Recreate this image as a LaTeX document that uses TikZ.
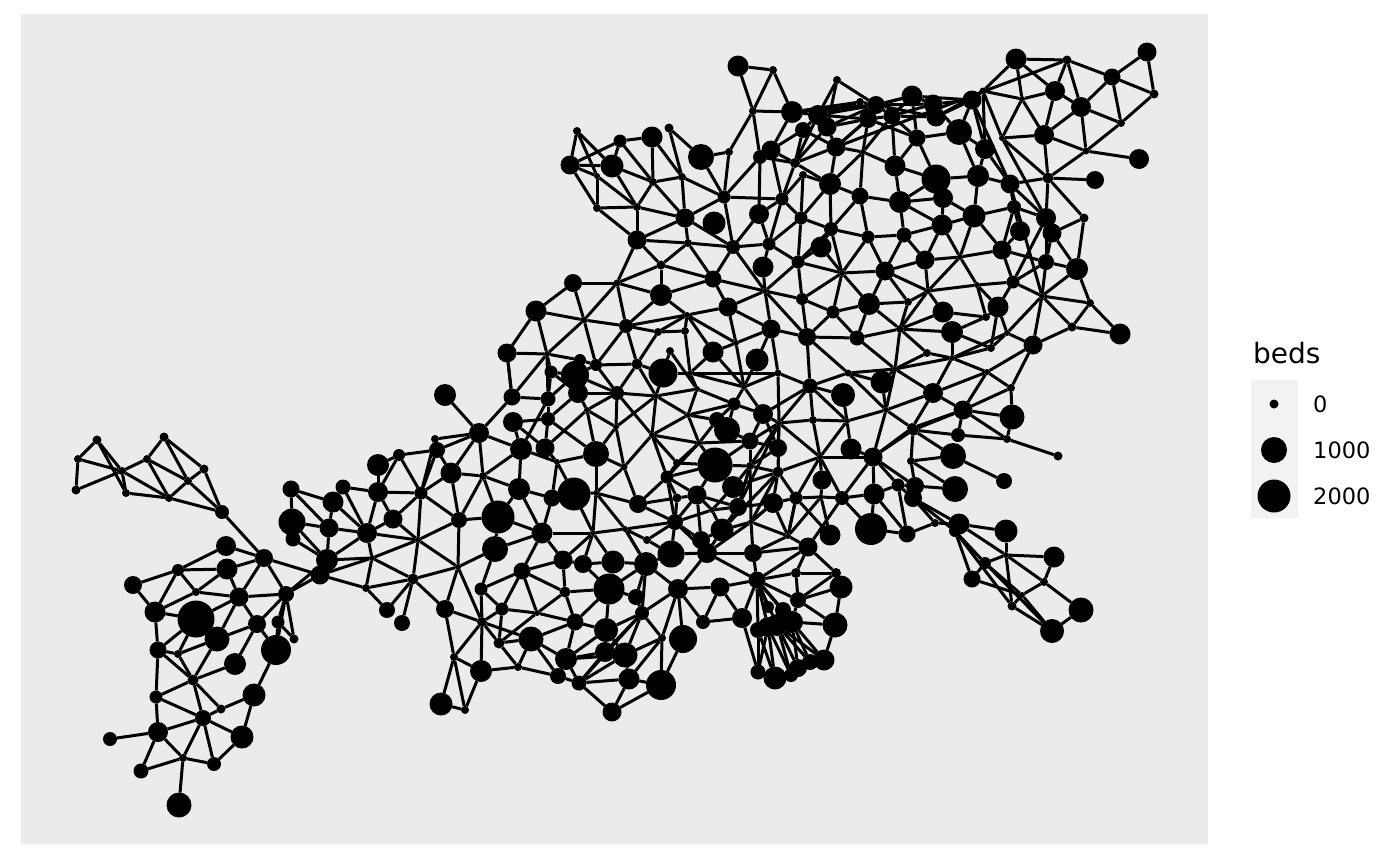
\documentclass[tikz,border=0pt]{standalone}
\usepackage{fontspec}
\setmainfont{DejaVu Sans}
\definecolor{panelgrey}{HTML}{EBEBEB}
\definecolor{keygrey}{HTML}{F2F2F2}
\tikzset{
  hub/.style={circle,fill=black,draw=none,inner sep=0pt,outer sep=0pt,minimum size=#1*2pt},
  link/.style={black,line width=3pt},
}
\begin{document}
\begin{tikzpicture}[x=1pt,y=-1pt]
\useasboundingbox (0,0) rectangle (1400,865);
\fill[panelgrey] (21,14) rectangle (1208,844);
\fill[keygrey] (1251,380) rectangle (1298,518);
% hospitals
\foreach \n/\x/\y/\r in {
a1/97/440/4.5,a2/78/459/4,a3/76/490/4.5,a4/122/471/4,a5/126/493/4,a6/147/459/4,a7/164/437/4.5,a8/204/469/4.5,a9/188/481/4,a10/169/498/4,a11/222/512/7,
b1/264/558/9,b2/226/546/10,b3/227/569/10.5,b4/178/570/6,b5/133/585/9,b6/155/612/10.5,b7/196/619/18.5,b8/196/592/4,b9/239/597/9.5,b10/286/594/8,b11/257/624/9,b12/217/639/12.5,b13/158/650/8.5,b14/178/654/4,b15/235/664/11,b16/276/650/15,b17/278/622/6.5,b18/294/639/4.5,b19/193/680/5.5,b20/156/697/6.5,b21/221/709/4.5,b22/254/695/11.5,b23/203/718/8,b24/242/737/11.5,b25/158/732/10,b26/110/739/7,b27/141/771/7.5,b28/183/758/4,b29/214/764/7,b30/179/805/12.5,
c1/320/575/9.5,c2/327/560/11,c3/329/528/9.5,c4/292/522/13.5,c5/291/489/8.5,c6/293/539/7.5,c7/333/502/10.5,c8/343/487/7.5,c9/378/492/10,c10/378/465/11,c11/399/455/6,c12/367/533/10,c13/393/519/9.5,c14/372/558/3,c15/366/588/4,c16/387/610/8,c17/402/623/8,
d1/445/395/11,d2/479/433/10,d3/435/439/4,d4/437/450/8,d7/451/473/10.5,d9/421/493/6.5,d12/459/520/8,d13/483/476/4,d14/498/517/16.5,d15/519/489/11,d16/521/449/11,d17/513/422/10,d18/512/397/8.5,d19/548/399/7.5,d20/548/419/7,d21/545/448/9.5,d22/552/498/8.5,d23/574/494/16.5,d24/542/533/10.5,d25/495/549/13,d26/418/540/3,d27/458/567/3,d30/413/579/5.5,d31/445/609/9,d34/522/571/8.5,d35/481/589/6.5,d36/502/609/6.5,d37/563/560/9.5,d38/583/564/9,d39/613/562/11.5,d40/646/564/12,d41/671/554/13.5,d42/565/592/5.5,d43/609/589/15.5,d44/636/597/8,d45/678/589/10,d46/482/622/5,d47/537/613/3,d48/575/622/8.5,d49/606/630/12,d50/642/613/7,d51/703/622/7,d52/499/643/5.5,d53/531/639/12.5,d54/662/638/4,d55/683/639/14,d56/454/657/4,d57/481/671/11,d58/518/667/4,d59/566/659/11,d60/605/652/10,d61/625/655/12.5,d62/558/676/8,d63/579/683/7.5,d64/629/679/10.5,d65/661/685/15,d66/612/712/9.5,d67/441/704/11.5,d68/465/710/4,
d76/616/427/3,d77/652/435/3,d78/596/454/13,d79/624/467/3.5,d80/667/477/6.5,d81/677/463/4,d82/715/465/17.5,d83/697/495/9.5,d84/677/498/4.5,d85/638/504/9,d86/675/522/8,d87/596/493/3,d88/593/533/3,d89/625/529/3,d90/647/540/4,d91/701/540/9,d92/707/553/10,
f1/577/131/4,f2/570/165/9.5,f3/612/166/11.5,f4/620/141/6.5,f5/652/137/10.5,f6/669/128/4.5,f7/701/157/13,f8/729/152/4,f9/753/111/4,f10/792/112/11,f11/760/157/7,f12/771/150/9.5,f14/818/115/10,f15/803/130/8,f16/827/127/9.5,f20/782/199/6.5,f21/724/197/6.5,f22/682/177/4,f23/653/182/4,f24/597/176/3,f25/597/208/4,f26/637/207/4,f27/685/218/9.5,f28/714/223/11.5,f29/759/214/10,f32/637/240/9.5,f33/688/243/4,f34/733/247/7,f35/769/244/6.5,f38/763/267/10.5,f39/661/265/4.5,f40/713/279/8.5,f41/765/291/3,f42/573/283/9,f43/617/283/3.5,f44/661/295/11,f45/728/307/9.5,f48/536/311/10.5,f49/584/320/3.5,f50/626/326/7,f51/687/315/3,f52/658/332/4,f53/685/331/4,f54/771/329/9.5,f56/736/343/3,f57/713/352/10.5,f58/670/351/4,f59/757/360/11.5,f60/507/353/9.5,f61/547/354/3,f62/580/360/6,f63/596/365/6,f64/637/364/5.5,f65/663/373/14.5,f66/551/372/6.5,f67/575/375/14,f68/690/373/3,f69/778/373/3.5,f74/578/393/10,f75/617/393/7,f76/656/396/3,f77/697/389/3,f78/744/387/3,f79/734/404/6.5,f80/763/414/10,f81/688/415/3,
g1/837/80/4,g6/860/102/4,g7/876/105/9,g8/868/119/9,g9/892/116/8.5,g10/912/96/10.5,g11/933/104/9.5,g12/936/117/9.5,g13/972/100/9.5,g14/983/91/3.5,g15/1016/59/10.5,g16/1067/60/4.5,g17/1147/52/9.5,g18/1154/94/4.5,g19/1112/77/8.5,g20/1055/91/10,g21/1081/107/10,g22/1022/99/3,g23/1121/123/4,g24/1002/138/3,g25/1044/135/10,g26/1086/151/3.5,g27/1139/159/10,g28/1095/180/9,g29/1048/178/5.5,g30/959/132/13,g31/917/138/8.5,g32/985/149/10,g33/836/147/9.5,g34/863/152/3,g35/795/163/5,g36/895/166/10.5,g37/936/179/14.5,g38/978/176/11,g39/1010/184/9.5,g40/830/184/11,g41/860/196/8.5,g42/900/202/11,g43/943/198/10,g44/803/175/4,g45/974/216/11.5,g46/1014/207/7,g47/1046/218/10,g48/1052/233/9.5,g49/1020/231/10,g50/1084/218/4.5,g51/942/225/10.5,g52/904/235/7.5,g53/868/237/6.5,g54/831/229/7,g55/801/218/6.5,g56/821/247/10.5,g57/798/262/6.5,g58/842/273/3,g59/885/271/9.5,g60/925/260/9.5,g61/960/257/3,g62/1002/250/9.5,g63/1046/262/8,g64/1077/269/11,g65/1013/282/6.5,g66/977/285/3,g67/928/291/3,g68/908/302/4,g69/869/304/11,g70/802/299/6,g71/833/312/6.5,g72/1042/296/3,g73/1090/303/4,g74/1072/327/4.5,g75/1120/334/10.5,g76/998/307/10.5,g77/943/312/10.5,g78/986/317/4,g79/952/332/11,g80/900/329/4,g81/857/338/7.5,g82/807/337/9,g83/927/353/4,g84/991/348/4,g85/1033/345/9.5,g86/1007/333/3,g87/952/358/3,g88/987/372/3,g89/895/369/3,g90/848/373/3.5,g91/882/382/11.5,g92/810/386/7.5,g93/843/395/12,g94/1011/388/4,g95/933/393/10,g96/963/410/9.5,g97/1012/417/12.5,g98/886/410/3,g99/813/420/4,g100/847/421/3,g101/912/428/5,
h1/717/420/8,h2/727/430/13,h4/779/423/3,h8/750/441/8.5,h9/778/448/9,h10/851/449/10.5,h11/873/457/9.5,h12/820/457/3,h13/750/466/4,h14/778/472/5.5,h15/733/487/11,h16/822/480/9.5,h17/796/498/6.5,h18/821/497/3,h19/842/498/7,h20/874/494/10.5,h21/898/485/6.5,h22/915/486/9,h23/913/498/9,h24/955/489/13,h25/1004/481/8,h26/953/456/13,h27/911/461/4,h28/913/430/5.5,h30/958/435/7,h32/1007/439/4,h33/1058/456/4.5,h35/830/535/10.5,h36/871/529/16,h37/907/534/8.5,h38/935/523/4,h39/959/524/10.5,h40/955/531/6,h41/1006/531/11.5,h42/1054/557/10.5,h43/1006/555/3,h44/985/563/6,h45/972/579/8.5,h46/1044/582/4,h47/1022/595/3,h48/1012/606/4.5,h49/1081/610/12.5,h50/1052/631/12,h51/773/503/10,h52/738/507/9,h53/722/530/11.5,h56/753/553/9,h57/808/547/9.5,h58/788/536/3,h59/751/522/3,h60/757/580/8.5,h61/796/573/5,h62/798/600/8,h63/836/573/5,h64/841/587/11.5,h65/835/625/12.5,h66/824/660/10.5,h67/810/662/8,h68/798/668/9,h69/791/675/7,h70/775/678/11.5,h71/758/672/7.5,h72/758/630/8,h73/768/627/10,h74/777/625/11,h75/792/622/11,h76/783/610/8,h77/768/607/6,h78/742/618/10,h79/720/587/9.5,j1/699/443/3,j2/557/462/3,j3/587/410/3,j4/712/510/3,k1/738/66/10.5,k2/773/70/4}
  \node[hub=\r] (\n) at (\x,\y) {};
% neighbours
\foreach \p/\qs in {
a1/{a2,a4,a5},a2/{a3,a4},a3/{a4},a4/{a5,a6,a10},a5/{a10},a6/{a7,a9,a10},a7/{a8,a9},a8/{a9,a11},a9/{a10,a11},a10/{a11},a11/{b1},
b1/{b2,b3,b9,b10,c1},b2/{b4},b3/{b4,b8,b9},b4/{b5,b6,b8},b5/{b6},b6/{b7,b8,b13},b7/{b9,b13,b14},b8/{b9},b9/{b10,b11,b12},b10/{b11,b16,b17,b18,c1,c2},b11/{b12,b15,b16},b12/{b14,b19},b13/{b14,b19,b20},b14/{b19},b15/{b19},b16/{b17,b22},b17/{b18},b19/{b20,b21,b23},b20/{b23,b25},b21/{b22,b23},b22/{b24},b23/{b24,b25,b28,b29},b24/{b29},b25/{b26,b27,b28},b27/{b28},b28/{b29,b30},
c5/{c3,c4,c7},c4/{c3,c2,c6},c6/{c2},c7/{c3,c8,c12},c3/{c2,c12},c2/{c1,c12,c14},c1/{c14,c15},c8/{c9,c12},c9/{c10,c11,c12,c13,d9},c10/{c11},c11/{d4,d9},c12/{c13,c14,d26},c13/{d9,d26},c14/{c15,d26,d30},c15/{c16,d30},
d1/{d2},d2/{d3,d4,d7,d13,d16,d18},d3/{d4,d9},d4/{d7,d9},d7/{d9,d12,d13},d9/{d12,d26},d12/{d13,d14,d26,d27},d13/{d14,d15,d16},d14/{d15,d24,d25},d15/{d16,d22,d24},d16/{d17,d19,j2},d17/{d20,d21},d18/{d19,f60,f61},d19/{d20,f61,f66,f67},d20/{d21,d78,f74},d21/{j2,j3},j2/{d78,d23,d22},j3/{f74,f75,d76,d78},d22/{d24},d24/{d25,d34,d37,d88},d25/{d27,d35},d26/{d27,d30},d27/{d30,d31,d46},d30/{c16,c17,d31},d31/{d46,d56},d34/{d35,d36,d37,d42,d47},d35/{d36,d46},d36/{d46,d47,d52},d37/{d38,d42,d88},d38/{d39,d43,d88},d39/{d40,d88},d40/{d41,d43,d44,d50,d89,d45},d41/{d86,d90,d92},d42/{d43,d47,d48},d43/{d44,d48,d49},d44/{d50},d45/{d50,d51,d54,d55,d92,h79},d46/{d52,d53,d56,d57},d47/{d48,d52},d48/{d49,d53,d59},d49/{d50,d59,d60,d61},d50/{d54,d60,d61,d63},d52/{d53,d58},d53/{d58,d59,d62},d54/{d61,d64,d65},d55/{d65},d56/{d57,d67,d68},d57/{d58,d68},d58/{d62},d59/{d60,d61,d62,d63},d60/{d63},d61/{d63,d64},d62/{d63},d63/{d64,d66},d64/{d65,d66},d65/{d66},d67/{d68},
d23/{d87,d88},d76/{f75,d78,d79,f76},d77/{f76,f75,d79,d80,f81,j1,d81},d78/{d79,d87},d79/{d85,d87},d80/{d81,d84,d85,d86,j1,d82,d83},d81/{d82,j1},d82/{d83,j1,h15,h8,h13},d83/{d84,h52,d91,d86,j4},d84/{d86,d85},d85/{d86,d87},d86/{d89,d90,d91,d92,j4},d87/{d88,d89},d88/{d89},d89/{d90,d40},d91/{d92,h53},d92/{h53,h56,h60,h59},
f1/{f2,f3,f24},f2/{f3,f4,f24,f25},f3/{f4,f23,f26},f4/{f5,f23},f5/{f22,f23},f6/{f7,f22},f7/{f8,f21},f8/{f9,f21},f9/{f10,f11,k1,k2},k1/{k2},k2/{f10},f10/{f12,f14,g6,g7},f11/{f12,f21,g35,f29},f12/{f15,g35,f20},f22/{f23,f21,f27},f23/{f26,f27},f24/{f25,f26},f25/{f26,f32},f26/{f27,f32},f21/{f20,f27,f34},f27/{f32,f33,f34},f32/{f33,f39,f43},f33/{f34,f39,f40},f34/{f29,f35,f40,f41},f20/{f35,g35,f29,g55,g44},f29/{f35},f35/{g55,f38,g57},f38/{f41},f39/{f40,f43,f44},f40/{f41,f44,f45},f41/{f45,f54,g57,g70,g82},f42/{f43,f48,f49},f43/{f44,f49,f50},f44/{f50,f51},f45/{f51,f54,f56},f48/{f49,f60,f61},f49/{f50,f61,f63},f50/{f51,f52,f63,f64},f51/{f52,f53,f56,f57},f52/{f53,f64},f53/{f68},f54/{g82,f56,f69,f59},f59/{f78},f56/{f57,f78},f57/{f68,f78},f58/{f77,f65},f60/{f61,d18},f61/{f62,f66},f62/{f63},f63/{f64,f75,f67},f64/{f75,f76,f65},f65/{f68,f76},f67/{f75,f66},f74/{f75,f66},f75/{f76},f76/{f77,f81},f68/{f77,f78,f69},f69/{f78,g92,h4},f77/{f81,f79},f78/{f79,f80},f79/{f81,h1,h2,f80},f80/{h4,h9,g92,h8},
g15/{g16,g14,g22,g20},g16/{g20,g19,g21},g17/{g18,g19},g18/{g19,g23},g19/{g21,g23},g20/{g21,g22,g25},g21/{g23,g25,g26},g22/{g14,g24,g25},g14/{g13,g24,g32,g12},g24/{g25,g29,g47},g25/{g26,g29},g23/{g26},g26/{g27,g29},g29/{g28,g39,g47,g50},g50/{g48,g64},g47/{g48,g46,g39,g63,g65},g48/{g63},g64/{g48,g73,g72,g63},g73/{g72,g74,g75},g74/{g75,g72,g85},g85/{g72,g86,g88,g94},g94/{g88,g96,g97},
g13/{g11,g12,g10,g32,g39,g30},g10/{g7,g11,g31,g9},g31/{g30,g36,g37,g9,g8},g30/{g32,g11,g38},g32/{g38,g39},g36/{g37,g42,g34,g9},g37/{g38,g43,g42},g38/{g45,g39},g39/{g46,g72},g42/{g41,g43,g51,g52},g43/{g51,g45},g45/{g51,g46,g62,g61},g46/{g49,g62},g40/{g33,g41,g54,g35,g44,g34,g55},g41/{g34,g53,g54},g33/{g34,g8,g35,g16},g34/{g8,g9},g53/{g52,g54,g58,g59},g52/{g51,g59,g60},g51/{g60,g61},g60/{g59,g61,g67},g61/{g62,g66,g67},g62/{g65,g63,g49},g59/{g58,g67,g68,g69},g58/{g57,g56,g54,g69,g71,g70},g54/{g55,g56,g57},g55/{g57,g44},g57/{g70,g56},g69/{g68,g71,g81,g80},g68/{g67,g80},g67/{g66,g77,g80},g66/{g65,g76,g78},g65/{g63,g76,g72},g63/{g72},g77/{g78,g80},g78/{g76,g79},g76/{g84,g86},g86/{g84,g87,g72},g80/{g79,g83,g81,g89},g79/{g84,g87},g83/{g87,g89},g81/{g82,g71,g89},g82/{g71,g70,g90,g92},g70/{g71},g90/{g92,g91,g89,g98},g89/{g87,g95,g98,g91},g87/{g88,g84,g95},g88/{g95,g96},g95/{g98,g96,g101},g96/{g101},g98/{g101,g100,g91,h11},g92/{g99,g100,g93,h4},g93/{g100},g1/{g7,f14,f16},g6/{g7,f14},g7/{g8,g9,g10,g12,g11,f14,f16},g8/{g9,f14,g33,f16},g9/{g12,g11},g11/{g12},f14/{f15,f16,g35},f15/{g35,g33},f16/{g33,g35},
h4/{g99,h8,h9,h12,h14,h13,h52},g99/{g100,h12},g100/{h10,h12},h12/{h11,h14,h17,h16,h19},h11/{h10,h28,h19,h20,h21,g101,h22},h28/{g101,g96,h27,h26,h30},g96/{h30,h32,g97},h30/{h32},h26/{h27,h25},h27/{h24,h22},h32/{g97,h33},h21/{h22,h20,h23,h37},h22/{h24,h23},h23/{h38,h39,h40},h20/{h19,h36,h37},h19/{h18,h36},h18/{h17,h35,h16,h58},h17/{h51,h35,h58},h36/{h37},h37/{h38},h38/{h39},h39/{h41,h43},h40/{h44,h45,h48},h41/{h43},h43/{h42,h44,h48,h46},h44/{h45,h47,h50},h45/{h47},h46/{h42,h47,h49},h47/{h48,h50},h48/{h50},h49/{h50},
h56/{h57,h59,h60},h57/{h58,h60,h61,h63,h19},h58/{h59,h56,h17,h51},h59/{h51,h14},h60/{h79,h78,h61,h62,h72,h73,h74,h76,h77,h75},h61/{h63,h62},h62/{h64,h65,h75,h63},h63/{h64},h64/{h65},h65/{h66,h75},h66/{h67,h75,h74},h67/{h75,h74},h68/{h75,h74},h69/{h74,h73},h70/{h73,h72},h71/{h72,h78,h73},h79/{h78,d51},d51/{h78},
j1/{h8,f81,h1},h1/{f81},h8/{h2,h9,h13},h9/{h14,h13},h14/{h15,h51,h17,h53},h15/{h13,j4},h13/{h14,h52,h59},j4/{h52,h53},h51/{h52,h59},h52/{h15},h53/{h52,h59}}
  \foreach \q in \qs \draw[link] (\p) -- (\q);
% legend
\node[hub=4.5] (key0) at (1274,404) {};
\node[hub=13] (key1) at (1274,450) {};
\node[hub=16.5] (key2) at (1274,496) {};
\node[anchor=base west,inner sep=0pt,font=\fontsize{28}{28}\selectfont] (title) at (1253,363) {beds};
\node[anchor=base west,inner sep=0pt,font=\fontsize{22.5}{22.5}\selectfont] (lab0) at (1313,412) {0};
\node[anchor=base west,inner sep=0pt,font=\fontsize{22.5}{22.5}\selectfont] (lab1) at (1313,458) {1000};
\node[anchor=base west,inner sep=0pt,font=\fontsize{22.5}{22.5}\selectfont] (lab2) at (1313,504) {2000};
\end{tikzpicture}
\end{document}
